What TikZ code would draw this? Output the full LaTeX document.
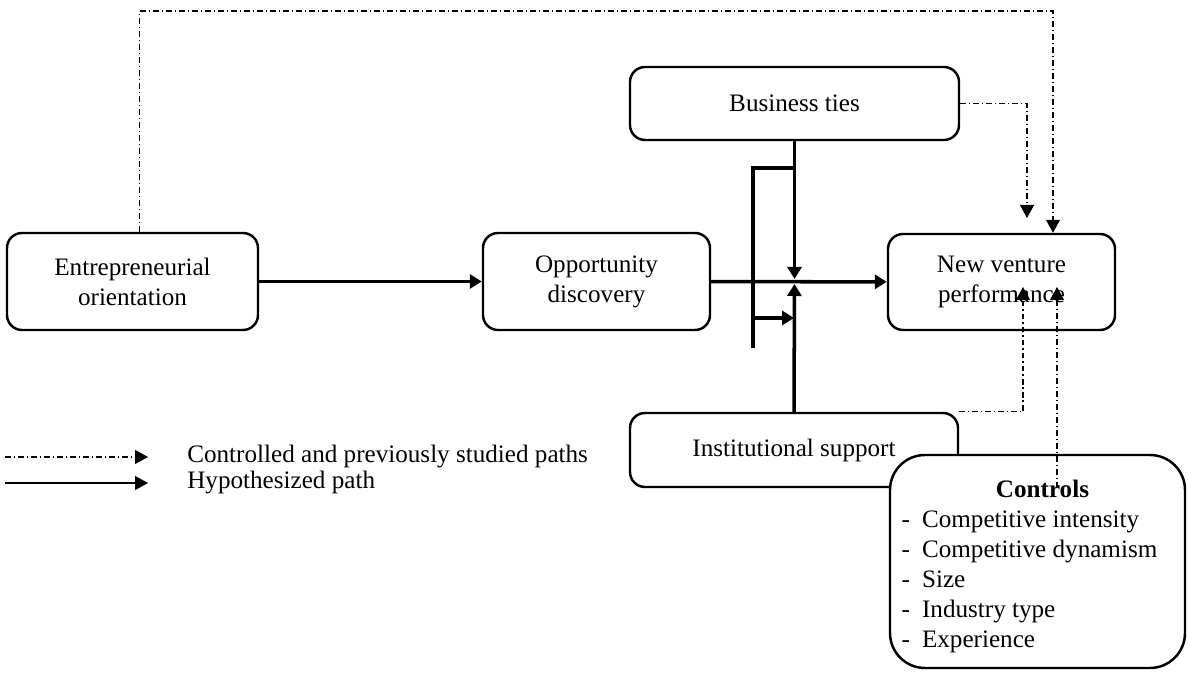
\documentclass[tikz,border=0pt]{standalone}
\usepackage{fontspec}
\setmainfont{Liberation Serif}
\usepackage{tikz}
\usetikzlibrary{arrows.meta, positioning, calc}
\tikzstyle{construct} = [rectangle, rounded corners=0.3cm, text centered, align=center, draw=black, line width=1.4pt, fill=white, font=\fontsize{14.3}{17}\selectfont]
\tikzstyle{ctrlbox} = [rectangle, rounded corners=0.7cm, draw=black, line width=1.4pt, fill=white, font=\fontsize{14.3}{17}\selectfont]
\tikzstyle{hyp} = [line width=2pt, -{Triangle[length=0.24cm,width=0.28cm]}]
\tikzstyle{ctrl} = [line width=0.6pt, dash pattern=on 3.4pt off 1.7pt on 0.6pt off 1.7pt, -{Triangle[length=0.26cm,width=0.28cm]}]
\tikzstyle{legtext} = [anchor=west, inner sep=0pt, font=\fontsize{14.3}{17}\selectfont]
\newcommand{\ctlitem}{-\hspace{0.24cm}}

\begin{document}
\begin{tikzpicture}
    \useasboundingbox (0,0) rectangle (23.76,13.46);
    \node[construct, minimum width=5.02cm, minimum height=1.94cm] (eo) at (2.65,7.83) {Entrepreneurial\\orientation};
    \node[construct, minimum width=4.54cm, minimum height=1.94cm] (od) at (11.93,7.83) {Opportunity\\discovery};
    \node[construct, minimum width=6.58cm, minimum height=1.46cm] (bt) at (15.89,11.39) {Business ties};
    \node[construct, minimum width=4.54cm, minimum height=1.92cm] (nvp) at (20.03,7.82) {New venture\\performance};
    \node[construct, minimum width=6.56cm, minimum height=1.48cm] (is) at (15.88,4.46) {Institutional support};

    % moderation bracket
    \coordinate (modtop) at (15.06,10.1);
    \coordinate (modbot) at (15.06,6.5);
    \coordinate (modarr) at (15.06,7.1);
    \coordinate (jn) at (bt.south |- od.east);

    \draw[hyp] (eo) -- (od);
    \draw[hyp] (od) -- (nvp);
    \draw[hyp, shorten >=0.05cm] (bt.south) -- (jn);
    \draw[hyp, shorten >=0.05cm] (is.north) -- (jn);
    \draw[line width=2pt] (modbot) -- (modtop) -- (modtop -| bt.south);
    \draw[hyp] (modarr) -- (modarr -| is.north);

    % controlled paths
    \coordinate (topleft) at (2.79,13.24);
    \coordinate (topright) at (21.06,13.24);
    \coordinate (btdrop) at (20.54,9.1);
    \coordinate (isrise) at (20.46,7.72);
    \draw[ctrl] (eo.north -| topleft) -- (topleft) -- (topright) -- (topright |- nvp.north);
    \draw[ctrl] (bt.east) -| (btdrop);
    \draw[ctrl] (is.north east) -| (isrise);

    \node[ctrlbox, minimum width=5.9cm, minimum height=4.26cm] (ctl) at (20.75,2.23) {%
        \begin{tabular}{@{}l@{}}
        \multicolumn{1}{c}{\rule{0pt}{17.6pt}\hspace{0.52cm}\textbf{Controls}}\\
        \ctlitem Competitive intensity\\
        \ctlitem Competitive dynamism\\
        \ctlitem Size\\
        \ctlitem Industry type\\
        \ctlitem Experience
        \end{tabular}\hspace{0.32cm}\mbox{}};
    \coordinate (ctlstart) at (21.14,3.7);
    \coordinate (ctlrise) at (21.14,7.72);
    \draw[ctrl] (ctlstart) -- (ctlrise);

    % legend
    \node[legtext] (lgctrl) at (3.74,4.32) {Controlled and previously studied paths};
    \node[legtext] (lghyp) at (3.74,3.8) {Hypothesized path};
    \coordinate (lgc) at (0.1,4.32);
    \coordinate (lgh) at (0.1,3.8);
    \draw[ctrl, shorten >=0.78cm] (lgc) -- (lgctrl.west);
    \draw[line width=0.6pt, -{Triangle[length=0.26cm,width=0.28cm]}, shorten >=0.78cm] (lgh) -- (lghyp.west);
\end{tikzpicture}
\end{document}
